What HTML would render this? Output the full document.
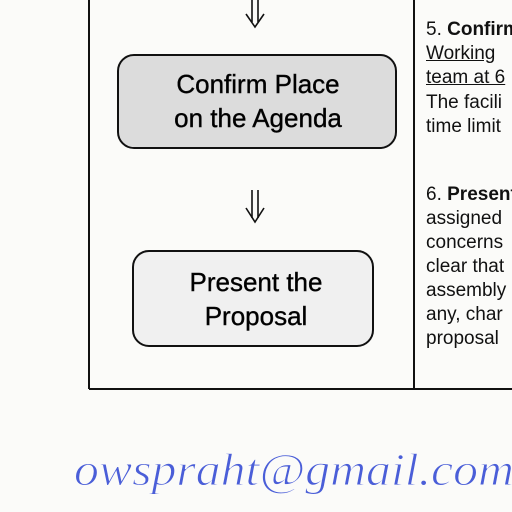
<!DOCTYPE html>
<html><head><style>
body{margin:0;width:512px;height:512px;background:#fbfbf9;position:relative;overflow:hidden;font-family:"Liberation Sans",sans-serif;color:#111}
.t{position:absolute;left:426px;font-size:19px;white-space:nowrap;line-height:24px}
.u{text-decoration:underline}
</style></head><body>
<svg width="512" height="512" style="position:absolute;left:0;top:0">
<line x1="89" y1="0" x2="89" y2="389" stroke="#111" stroke-width="2"/>
<line x1="414" y1="0" x2="414" y2="389" stroke="#111" stroke-width="2"/>
<line x1="89" y1="389" x2="512" y2="389" stroke="#111" stroke-width="2"/>
<rect x="118" y="55" width="278" height="93" rx="16" fill="#dcdcdc" stroke="#111" stroke-width="2"/>
<rect x="133" y="251" width="240" height="95" rx="16" fill="#f0f0f0" stroke="#111" stroke-width="2"/>
<g stroke="#111" stroke-width="1.6" fill="none">
<line x1="252" y1="0" x2="252" y2="22"/><line x1="258" y1="0" x2="258" y2="22"/>
<polyline points="246,14 255,27 264,14"/>
<line x1="252" y1="190" x2="252" y2="218"/><line x1="258" y1="190" x2="258" y2="218"/>
<polyline points="246,208 255,222 264,208"/>
</g>
<g font-size="26" text-anchor="middle" font-family="Liberation Sans" stroke="#111" stroke-width="0.4">
<text x="258" y="93">Confirm Place</text>
<text x="258" y="127">on the Agenda</text>
<text x="256" y="291">Present the</text>
<text x="256" y="325">Proposal</text>
</g>
<text x="74" y="485" font-size="46" fill="#4a5ed8" font-family="Liberation Serif" font-style="italic" textLength="440" lengthAdjust="spacingAndGlyphs" stroke="#fbfbf9" stroke-width="1">owspraht@gmail.com</text>
</svg>
<div class="t" style="top:18px">5. <b>Confirm</b></div>
<div class="t u" style="top:42px">Working</div>
<div class="t u" style="top:66px">team at 6</div>
<div class="t" style="top:91px">The facili</div>
<div class="t" style="top:115px">time limit</div>
<div class="t" style="top:183px">6. <b>Present</b></div>
<div class="t" style="top:207px">assigned</div>
<div class="t" style="top:231px">concerns</div>
<div class="t" style="top:255px">clear that</div>
<div class="t" style="top:279px">assembly</div>
<div class="t" style="top:303px">any, char</div>
<div class="t" style="top:327px">proposal</div>
</body></html>
